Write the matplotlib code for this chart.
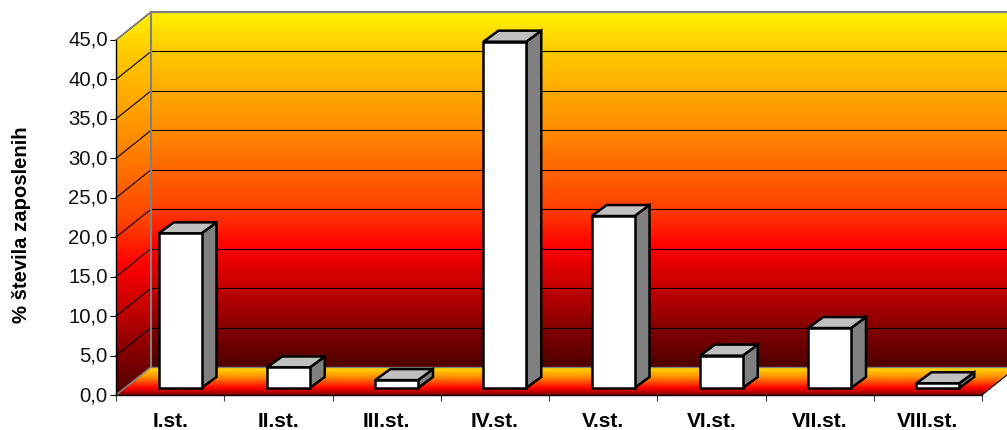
import matplotlib
matplotlib.use('Agg')
import matplotlib.pyplot as plt
import numpy as np
from matplotlib.colors import LinearSegmentedColormap
from matplotlib.patches import Polygon
from matplotlib.transforms import Affine2D

plt.rcParams['font.family'] = ['Liberation Sans', 'DejaVu Sans']

# --- Data ---
categories = ['I.st.', 'II.st.', 'III.st.', 'IV.st.', 'V.st.', 'VI.st.', 'VII.st.', 'VIII.st.']
values = [19.6, 2.6, 1.0, 43.9, 21.8, 4.1, 7.6, 0.6]
y_ticks = [0, 5, 10, 15, 20, 25, 30, 35, 40, 45]
y_labels = ['0,0', '5,0', '10,0', '15,0', '20,0', '25,0', '30,0', '35,0', '40,0', '45,0']

W, H = 1007, 430
fig = plt.figure(figsize=(W / 100, H / 100), dpi=100)

# background axes in pixels, only for the gradient walls
bg = fig.add_axes([0, 0, 1, 1])
bg.set_xlim(0, W)
bg.set_ylim(H, 0)
bg.axis('off')

wall_cmap = LinearSegmentedColormap.from_list('wall', [
    (0.00, '#fff200'), (0.10, '#ffcc00'), (0.33, '#ff8c00'), (0.55, '#ff4000'),
    (0.66, '#ff0000'), (0.80, '#b80000'), (0.90, '#800000'), (1.00, '#500000')])
floor_cmap = LinearSegmentedColormap.from_list('floor', [
    (0.00, '#ffe000'), (0.35, '#ff9000'), (0.75, '#ff0000'), (1.00, '#800000')])
grad = np.linspace(0, 1, 256).reshape(-1, 1)

back = bg.imshow(grad, cmap=wall_cmap, extent=[151, W, 367, 12], aspect='auto', zorder=1)
side = bg.imshow(grad, cmap=wall_cmap, extent=[116, 151, 395, 12], aspect='auto', zorder=1)
side.set_clip_path(Polygon([(116, 40), (151, 12), (151, 367), (116, 395)], transform=bg.transData))
floor = bg.imshow(grad, cmap=floor_cmap, extent=[116, W, 395, 367], aspect='auto', zorder=1)
floor.set_clip_path(Polygon([(116, 395), (151, 367), (1017, 367), (982, 395)], transform=bg.transData))
bg.set_xlim(0, W)
bg.set_ylim(H, 0)

# front plane of the chart
ax = fig.add_axes([116 / W, 1 - 395 / H, 866 / W, 355 / H])
ax.patch.set_alpha(0)
ax.set_xlim(0, len(categories))
ax.set_ylim(0, 45)


def shifted(dx, dy):
    # data coordinates moved by some pixels, for the fake 3d depth
    return ax.transData + Affine2D().translate(dx, dy)


# grid lines on the back wall and side wall
for v in y_ticks[1:]:
    ax.plot([0, len(categories)], [v, v], color='black', lw=0.8, transform=shifted(35, 28), clip_on=False, zorder=2)
    p0 = ax.transData.transform((0, v))
    ax.plot([p0[0], p0[0] + 35], [p0[1], p0[1] + 28], color='black', lw=0.8, transform=None, clip_on=False, zorder=2)

# wall outlines
wall_edge = '#808080'
ax.plot([0, 0], [0, 45], color=wall_edge, lw=1.5, transform=shifted(35, 28), clip_on=False, zorder=2)
ax.plot([0, len(categories)], [45, 45], color=wall_edge, lw=1.5, transform=shifted(35, 28), clip_on=False, zorder=2)
ax.plot([0, len(categories)], [0, 0], color=wall_edge, lw=1, transform=shifted(35, 28), clip_on=False, zorder=2)
for v in [0, 45]:
    p0 = ax.transData.transform((0, v))
    ax.plot([p0[0], p0[0] + 35], [p0[1], p0[1] + 28], color=wall_edge, lw=1.2, transform=None, clip_on=False, zorder=2)
p0 = ax.transData.transform((len(categories), 0))
ax.plot([p0[0], p0[0] + 35], [p0[1], p0[1] + 28], color='black', lw=0.8, transform=None, clip_on=False, zorder=2)

# bars, front face sits 7 px above the floor edge
x = np.arange(len(categories)) + 0.5
bar_w = 0.395
front = shifted(10, 7)
ax.bar(x, values, bar_w, color='white', edgecolor='black', linewidth=1.8, transform=front, clip_on=False, zorder=4)

for xi, v in zip(x, values):
    l, b = front.transform((xi - bar_w / 2, 0))
    r, t = front.transform((xi + bar_w / 2, v))
    ddx, ddy = 15, 11
    ax.add_patch(Polygon([(r, b), (r + ddx, b + ddy), (r + ddx, t + ddy), (r, t)], transform=None,
                         facecolor='#808080', edgecolor='black', lw=1.8, clip_on=False, zorder=3))
    ax.add_patch(Polygon([(l, t), (l + ddx, t + ddy), (r + ddx, t + ddy), (r, t)], transform=None,
                         facecolor='#c0c0c0', edgecolor='black', lw=1.8, clip_on=False, zorder=3))

# axes
for s in ['top', 'right']:
    ax.spines[s].set_visible(False)
for s in ['left', 'bottom']:
    ax.spines[s].set_linewidth(1)
    ax.spines[s].set_zorder(5)
ax.set_yticks(y_ticks)
ax.set_yticklabels(y_labels, fontsize=14.6, color='#111111')
ax.set_xticks(np.arange(len(categories) + 1))
ax.set_xticklabels([])
ax.set_xticks(x, minor=True)
ax.set_xticklabels(categories, minor=True, fontsize=15, fontweight='bold')
ax.tick_params(axis='x', which='major', length=4, width=0.8, color='#404040')
ax.tick_params(axis='x', which='minor', length=0, pad=12)
ax.tick_params(axis='y', length=4, width=0.8, pad=2)
# tick labels sit a little higher in the original
for lab in ax.get_yticklabels():
    lab.set_transform(lab.get_transform() + Affine2D().translate(0, 1.5))

fig.text(22 / W, 1 - 225 / H, '% števila zaposlenih', rotation=90, ha='center', va='center',
         fontsize=14.6, fontweight='bold')

fig.savefig('out.png', dpi=100)
